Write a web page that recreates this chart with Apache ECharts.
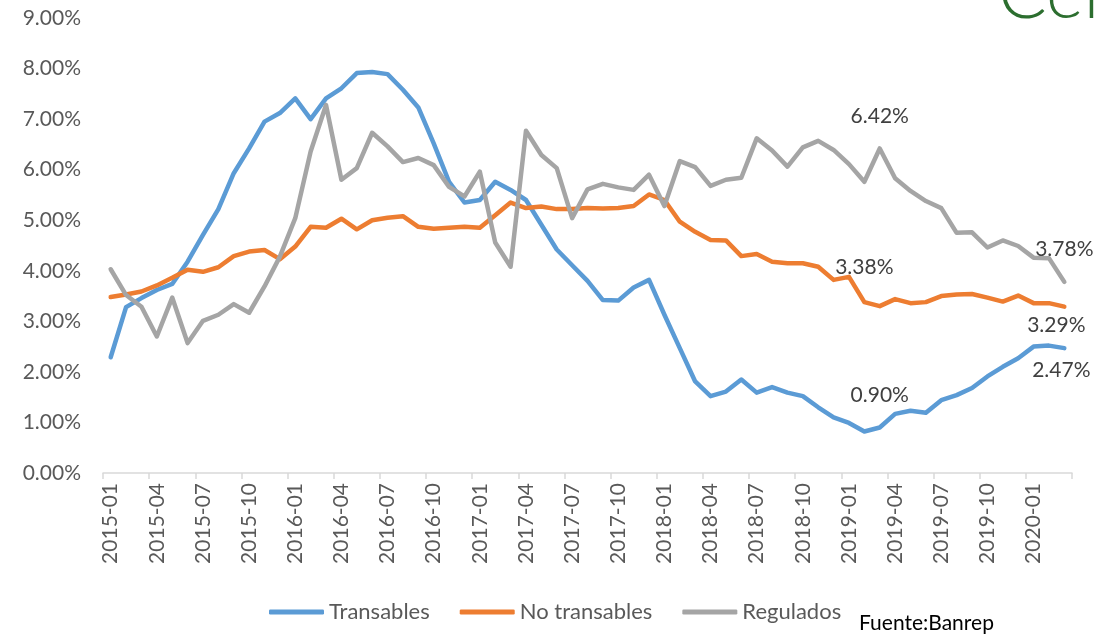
<!DOCTYPE html>
<html>
<head>
<meta charset="utf-8">
<script src="https://cdn.jsdelivr.net/npm/echarts@6/dist/echarts.min.js"></script>
<style>
  html, body { margin: 0; padding: 0; background: #fff; }
  #chart { width: 1113px; height: 635px; }
</style>
</head>
<body>
<div id="chart"></div>
<script>
// meses 2015-01 .. 2020-03
const meses = [];
for (let y = 2015; y <= 2020; y++) {
  for (let m = 1; m <= 12; m++) {
    if (y === 2020 && m > 3) break;
    meses.push(y + '-' + (m < 10 ? '0' + m : m));
  }
}

const transables = [
  2.29, 3.28, 3.46, 3.62, 3.74, 4.18, 4.71, 5.22, 5.93, 6.42, 6.95, 7.12,
  7.41, 7.00, 7.41, 7.61, 7.91, 7.93, 7.89, 7.58, 7.23, 6.52, 5.76, 5.35,
  5.40, 5.76, 5.60, 5.40, 4.91, 4.42, 4.11, 3.80, 3.42, 3.41, 3.67, 3.82,
  3.13, 2.47, 1.81, 1.52, 1.61, 1.85, 1.59, 1.70, 1.59, 1.52, 1.30, 1.10,
  0.99, 0.82, 0.90, 1.17, 1.23, 1.19, 1.44, 1.54, 1.68, 1.91, 2.10, 2.27,
  2.50, 2.52, 2.47
];
const noTransables = [
  3.48, 3.53, 3.59, 3.71, 3.86, 4.02, 3.98, 4.07, 4.29, 4.38, 4.41, 4.23,
  4.48, 4.87, 4.85, 5.03, 4.82, 5.00, 5.05, 5.08, 4.87, 4.83, 4.85, 4.87,
  4.85, 5.10, 5.35, 5.24, 5.27, 5.22, 5.22, 5.24, 5.23, 5.24, 5.28, 5.51,
  5.40, 4.97, 4.77, 4.61, 4.60, 4.29, 4.33, 4.18, 4.15, 4.15, 4.08, 3.82,
  3.88, 3.38, 3.30, 3.44, 3.36, 3.38, 3.50, 3.53, 3.54, 3.47, 3.39, 3.51,
  3.36, 3.36, 3.29
];
const regulados = [
  4.03, 3.52, 3.29, 2.70, 3.47, 2.57, 3.01, 3.13, 3.34, 3.17, 3.69, 4.28,
  5.04, 6.36, 7.28, 5.80, 6.03, 6.73, 6.46, 6.15, 6.23, 6.09, 5.66, 5.47,
  5.96, 4.56, 4.08, 6.77, 6.29, 6.03, 5.04, 5.61, 5.72, 5.65, 5.60, 5.90,
  5.28, 6.17, 6.05, 5.68, 5.80, 5.84, 6.62, 6.38, 6.06, 6.44, 6.57, 6.39,
  6.11, 5.76, 6.42, 5.83, 5.58, 5.38, 5.24, 4.75, 4.76, 4.46, 4.60, 4.49,
  4.26, 4.25, 3.78
];

const fuente = 'Lato, "Noto Sans", sans-serif';

// etiquetas solo en algunos puntos: indice -> posicion
function conEtiquetas(valores, marcas) {
  return valores.map((v, i) => {
    if (!marcas[i]) return v;
    return {
      value: v,
      label: {
        show: true,
        position: marcas[i].pos,
        distance: marcas[i].dist,
        offset: marcas[i].off || [0, 0],
        formatter: p => p.value.toFixed(2) + '%',
        color: '#404040',
        fontSize: 21,
        fontFamily: fuente
      }
    };
  });
}

function serie(nombre, datos, color) {
  return {
    name: nombre,
    type: 'line',
    data: datos,
    symbol: 'circle',
    symbolSize: 0, // sin marcadores, pero las etiquetas siguen visibles
    showSymbol: true,
    showAllSymbol: true,
    lineStyle: { color: color, width: 4.5, cap: 'round', join: 'round' },
    itemStyle: { color: color },
    emphasis: { disabled: true }
  };
}

const ultimo = meses.length - 1;

const chart = echarts.init(document.getElementById('chart'), null, { renderer: 'canvas' });
chart.setOption({
  animation: false,
  grid: { left: 103, right: 41, top: 18, bottom: 162 },
  xAxis: {
    type: 'category',
    data: meses,
    boundaryGap: true,
    axisLine: { lineStyle: { color: '#D9D9D9', width: 1.5 } },
    axisTick: { show: true, interval: 2, length: 6, lineStyle: { color: '#D9D9D9', width: 1.5 } },
    axisLabel: {
      interval: 2,
      rotate: 90,
      margin: 10,
      color: '#595959',
      fontSize: 21,
      fontFamily: fuente
    },
    splitLine: { show: false }
  },
  yAxis: {
    type: 'value',
    min: 0,
    max: 9,
    interval: 1,
    axisLine: { show: false },
    axisTick: { show: false },
    splitLine: { show: false },
    axisLabel: {
      margin: 22,
      color: '#595959',
      fontSize: 21,
      fontFamily: fuente,
      formatter: v => v.toFixed(2) + '%'
    }
  },
  legend: {
    left: 264,
    top: 596,
    icon: 'roundRect',
    itemWidth: 55,
    itemHeight: 5,
    itemGap: 30,
    textStyle: { color: '#595959', fontSize: 22, fontFamily: fuente },
    data: ['Transables', 'No transables', 'Regulados']
  },
  graphic: [
    {
      type: 'text',
      left: 859,
      top: 613,
      style: { text: 'Fuente:Banrep', fill: '#000', font: '21px ' + fuente }
    },
    {
      // logo recortado arriba a la derecha
      type: 'text',
      x: 998,
      y: 31,
      style: {
        text: 'Cel',
        fill: '#2c6e2f',
        font: '300 72px ' + fuente,
        verticalAlign: 'bottom'
      }
    }
  ],
  series: [
    serie('Transables', conEtiquetas(transables, {
      50: { pos: 'top', dist: 22 },
      [ultimo]: { pos: 'bottom', dist: 12, off: [-3, 0] }
    }), '#5B9BD5'),
    serie('No transables', conEtiquetas(noTransables, {
      49: { pos: 'top', dist: 24 },
      [ultimo]: { pos: 'bottom', dist: 8, off: [-8, 0] }
    }), '#ED7D31'),
    serie('Regulados', conEtiquetas(regulados, {
      50: { pos: 'top', dist: 22 },
      [ultimo]: { pos: 'top', dist: 22 }
    }), '#A5A5A5')
  ]
});
</script>
</body>
</html>
